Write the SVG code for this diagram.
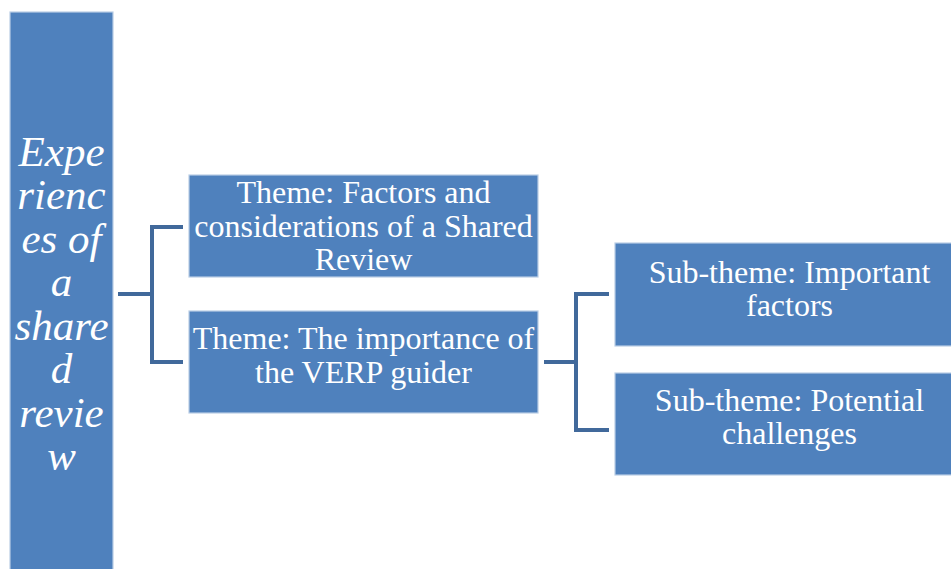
<svg xmlns="http://www.w3.org/2000/svg" width="951" height="569" viewBox="0 0 951 569">
<style>
.box{fill:#4F81BD;stroke:#B9CDE5;stroke-width:1.2}
.t{font-family:"Liberation Serif","Times New Roman",serif;font-size:32px;fill:#fff;text-anchor:middle}
.l{font-family:"Liberation Serif","Times New Roman",serif;font-size:43px;font-style:italic;fill:#fff;text-anchor:middle}
.c{fill:none;stroke:#41699B;stroke-width:4;stroke-linejoin:miter}
</style>
<rect width="951" height="569" fill="#fff"/>
<g id="connectors">
<path class="c" d="M118,294 H152 M183,227 H152 V362 H183"/>
<path class="c" d="M544,362 H576 M609,294 H576 V430 H609"/>
</g>
<g id="root">
<rect class="box" x="10" y="12" width="103" height="570"/>
<text class="l" x="61.5" y="166">Expe</text>
<text class="l" x="61.5" y="209">rienc</text>
<text class="l" x="61.5" y="253">es of</text>
<text class="l" x="61.5" y="296">a</text>
<text class="l" x="61.5" y="340">share</text>
<text class="l" x="61.5" y="383">d</text>
<text class="l" x="61.5" y="427">revie</text>
<text class="l" x="61.5" y="470">w</text>
</g>
<g id="theme1">
<rect class="box" x="189" y="175" width="349" height="102"/>
<text class="t" x="363.5" y="203">Theme: Factors and</text>
<text class="t" x="363.5" y="237">considerations of a Shared</text>
<text class="t" x="363.5" y="270">Review</text>
</g>
<g id="theme2">
<rect class="box" x="189" y="311" width="349" height="102"/>
<text class="t" x="363.5" y="349">Theme: The importance of</text>
<text class="t" x="363.5" y="383">the VERP guider</text>
</g>
<g id="sub1">
<rect class="box" x="615" y="243" width="350" height="103"/>
<text class="t" x="789.5" y="283">Sub-theme: Important</text>
<text class="t" x="789.5" y="316">factors</text>
</g>
<g id="sub2">
<rect class="box" x="615" y="373" width="350" height="102"/>
<text class="t" x="789.5" y="411">Sub-theme: Potential</text>
<text class="t" x="789.5" y="444">challenges</text>
</g>
</svg>
